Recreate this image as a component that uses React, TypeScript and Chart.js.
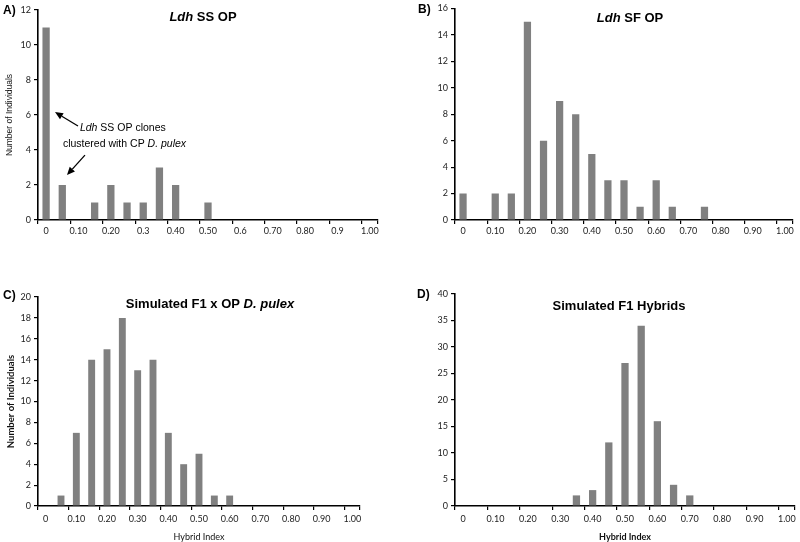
import React, { useEffect, useRef } from 'react';
import { Chart, registerables } from 'chart.js';

Chart.register(...registerables);

// ---- data ----
const hybridIndexBins = [
  '0', '0.05', '0.10', '0.15', '0.20', '0.25', '0.30', '0.35', '0.40', '0.45', '0.50',
  '0.55', '0.60', '0.65', '0.70', '0.75', '0.80', '0.85', '0.90', '0.95', '1.00',
];
const tickLabelsA = ['0', '', '0.10', '', '0.20', '', '0.3', '', '0.40', '', '0.50', '', '0.6', '', '0.70', '', '0.80', '', '0.9', '', '1.00'];
const tickLabelsStd = ['0', '', '0.10', '', '0.20', '', '0.30', '', '0.40', '', '0.50', '', '0.60', '', '0.70', '', '0.80', '', '0.90', '', '1.00'];

const countsLdhSSOP = [11, 2, 0, 1, 2, 1, 1, 3, 2, 0, 1, 0, 0, 0, 0, 0, 0, 0, 0, 0, 0];
const countsLdhSFOP = [2, 0, 2, 2, 15, 6, 9, 8, 5, 3, 3, 1, 3, 1, 0, 1, 0, 0, 0, 0, 0];
const countsSimF1xOP = [0, 1, 7, 14, 15, 18, 13, 14, 7, 4, 5, 1, 1, 0, 0, 0, 0, 0, 0, 0, 0];
const countsSimF1 = [0, 0, 0, 0, 0, 0, 0, 2, 3, 12, 27, 34, 16, 4, 2, 0, 0, 0, 0, 0, 0];

const yAxisA = { max: 12, step: 2 };
const yAxisB = { max: 16, step: 2 };
const yAxisC = { max: 20, step: 2 };
const yAxisD = { max: 40, step: 5 };

type Seg = { text: string; italic?: boolean; bold?: boolean };
type Note = { segs: Seg[]; at: [number, number] };
type Arrow = { from: [number, number]; to: [number, number] };

const TEXT_FONT = '"Liberation Sans", Arial, sans-serif';
const AXIS_FONT = 'Lato';

function fontStr(s: Seg, size: number) {
  return `${s.italic ? 'italic ' : ''}${s.bold ? 'bold ' : ''}${size}px ${TEXT_FONT}`;
}

function drawRich(ctx: CanvasRenderingContext2D, segs: Seg[], x: number, y: number, size: number, align: 'left' | 'center') {
  const widths = segs.map((s) => {
    ctx.font = fontStr(s, size);
    return ctx.measureText(s.text).width;
  });
  const total = widths.reduce((a, b) => a + b, 0);
  let cx = align === 'center' ? x - total / 2 : x;
  ctx.textAlign = 'left';
  ctx.textBaseline = 'middle';
  segs.forEach((s, i) => {
    ctx.font = fontStr(s, size);
    ctx.fillText(s.text, cx, y);
    cx += widths[i];
  });
}

interface PanelProps {
  box: { left: number; top: number; width: number; height: number };
  area: { left: number; top: number; right: number; bottom: number };
  counts: number[];
  tickLabels: string[];
  yAxis: { max: number; step: number };
  letter: string;
  letterAt: [number, number];
  title: Seg[];
  titleAt: [number, number];
  yTitle?: string;
  yTitleFont?: any;
  xTitle?: string;
  xTitleBold?: boolean;
  xTickPad: number;
  notes?: Note[];
  arrows?: Arrow[];
}

function Panel(p: PanelProps) {
  const ref = useRef<HTMLCanvasElement>(null);
  useEffect(() => {
    const { box, area } = p;
    const decor = {
      id: 'decor',
      afterDraw(chart: any) {
        const ctx: CanvasRenderingContext2D = chart.ctx;
        ctx.save();
        ctx.fillStyle = '#000';
        drawRich(ctx, [{ text: p.letter, bold: true }], p.letterAt[0] - box.left, p.letterAt[1] - box.top, 12, 'left');
        drawRich(ctx, p.title, p.titleAt[0] - box.left, p.titleAt[1] - box.top, 13, 'center');
        const xs = chart.scales.x;
        const ys = chart.scales.y;
        (p.notes || []).forEach((n) => {
          drawRich(ctx, n.segs, xs.getPixelForValue(n.at[0]), ys.getPixelForValue(n.at[1]), 10.5, 'left');
        });
        (p.arrows || []).forEach((a) => {
          const x1 = xs.getPixelForValue(a.from[0]);
          const y1 = ys.getPixelForValue(a.from[1]);
          const x2 = xs.getPixelForValue(a.to[0]);
          const y2 = ys.getPixelForValue(a.to[1]);
          const ang = Math.atan2(y2 - y1, x2 - x1);
          const hl = 8;
          const hw = 3.5;
          const bx = x2 - hl * Math.cos(ang);
          const by = y2 - hl * Math.sin(ang);
          ctx.strokeStyle = '#000';
          ctx.lineWidth = 1.3;
          ctx.beginPath();
          ctx.moveTo(x1, y1);
          ctx.lineTo(bx, by);
          ctx.stroke();
          ctx.beginPath();
          ctx.moveTo(x2, y2);
          ctx.lineTo(bx + hw * Math.sin(ang), by - hw * Math.cos(ang));
          ctx.lineTo(bx - hw * Math.sin(ang), by + hw * Math.cos(ang));
          ctx.closePath();
          ctx.fill();
        });
        ctx.restore();
      },
    };
    const chart = new Chart(ref.current as HTMLCanvasElement, {
      type: 'bar',
      data: {
        labels: hybridIndexBins,
        datasets: [
          {
            data: p.counts,
            backgroundColor: '#808080',
            borderWidth: 0,
            barPercentage: 0.45,
            categoryPercentage: 1,
          },
        ],
      },
      options: {
        animation: false,
        responsive: false,
        maintainAspectRatio: false,
        layout: {
          padding: {
            left: 0,
            top: area.top - box.top,
            right: box.left + box.width - area.right,
            bottom: 0,
          },
        },
        plugins: { legend: { display: false }, tooltip: { enabled: false }, title: { display: false } },
        scales: {
          x: {
            offset: true,
            grid: {
              offset: true,
              drawOnChartArea: false,
              drawTicks: true,
              tickLength: 4,
              lineWidth: 1.2,
              tickColor: (c: any) => (c.index === undefined || c.index % 2 === 0 ? '#000' : 'rgba(0,0,0,0)'),
            },
            border: { color: '#000', width: 1.6 },
            ticks: {
              autoSkip: false,
              maxRotation: 0,
              minRotation: 0,
              padding: p.xTickPad,
              color: '#222',
              font: { family: AXIS_FONT, size: 9 },
              callback: (_v: any, i: number) => p.tickLabels[i],
            },
            title: p.xTitle
              ? {
                  display: true,
                  text: p.xTitle,
                  color: '#111',
                  font: { family: AXIS_FONT, size: 9, weight: p.xTitleBold ? 'bold' : 'normal' },
                  padding: { top: 4, bottom: 0 },
                }
              : { display: false },
            afterFit: (s: any) => {
              s.height = box.top + box.height - area.bottom;
            },
          },
          y: {
            min: 0,
            max: p.yAxis.max,
            grid: { drawOnChartArea: false, drawTicks: true, tickLength: 4, lineWidth: 1.2, tickColor: '#000' },
            border: { color: '#000', width: 1.6 },
            ticks: {
              stepSize: p.yAxis.step,
              padding: 3,
              color: '#222',
              font: { family: AXIS_FONT, size: 9 },
            },
            title: p.yTitle
              ? {
                  display: true,
                  text: p.yTitle,
                  color: '#111',
                  font: p.yTitleFont || { family: AXIS_FONT, size: 9 },
                  padding: { top: 5, bottom: 0 },
                }
              : { display: false },
            afterFit: (s: any) => {
              s.width = area.left - box.left;
            },
          },
        },
      } as any,
      plugins: [decor],
    });
    return () => chart.destroy();
  }, []);
  return (
    <canvas
      ref={ref}
      width={p.box.width}
      height={p.box.height}
      style={{ position: 'absolute', left: p.box.left, top: p.box.top, width: p.box.width, height: p.box.height }}
    />
  );
}

export default function App() {
  return (
    <div style={{ position: 'fixed', left: 0, top: 0, width: 800, height: 542, background: '#fff', overflow: 'hidden' }}>
      <Panel
        box={{ left: 0, top: 0, width: 400, height: 271 }}
        area={{ left: 38, top: 10, right: 378, bottom: 220 }}
        counts={countsLdhSSOP}
        tickLabels={tickLabelsA}
        yAxis={yAxisA}
        letter="A)"
        letterAt={[3, 11]}
        title={[{ text: 'Ldh', bold: true, italic: true }, { text: ' SS OP', bold: true }]}
        titleAt={[203, 17]}
        yTitle="Number of Individuals"
        yTitleFont={{ family: '"Liberation Sans", Arial, sans-serif', size: 8.5 }}
        xTickPad={2}
        notes={[
          { segs: [{ text: 'Ldh', italic: true }, { text: ' SS OP clones' }], at: [2.09, 5.26] },
          { segs: [{ text: 'clustered with CP ' }, { text: 'D. pulex', italic: true }], at: [1.04, 4.34] },
        ]}
        arrows={[
          { from: [1.97, 5.37], to: [0.55, 6.17] },
          { from: [2.4, 3.71], to: [1.29, 2.57] },
        ]}
      />
      <Panel
        box={{ left: 400, top: 0, width: 400, height: 271 }}
        area={{ left: 455, top: 8, right: 793, bottom: 220 }}
        counts={countsLdhSFOP}
        tickLabels={tickLabelsStd}
        yAxis={yAxisB}
        letter="B)"
        letterAt={[418, 10]}
        title={[{ text: 'Ldh', bold: true, italic: true }, { text: ' SF OP', bold: true }]}
        titleAt={[630, 18]}
        xTickPad={2}
      />
      <Panel
        box={{ left: 0, top: 271, width: 400, height: 271 }}
        area={{ left: 38, top: 297, right: 360, bottom: 506 }}
        counts={countsSimF1xOP}
        tickLabels={tickLabelsStd}
        yAxis={yAxisC}
        letter="C)"
        letterAt={[3, 296]}
        title={[{ text: 'Simulated F1 x OP ', bold: true }, { text: 'D. pulex', bold: true, italic: true }]}
        titleAt={[210, 304]}
        yTitle="Number of Individuals"
        yTitleFont={{ family: AXIS_FONT, size: 9.5, weight: 'bold' }}
        xTitle="Hybrid Index"
        xTickPad={4}
      />
      <Panel
        box={{ left: 400, top: 271, width: 400, height: 271 }}
        area={{ left: 455, top: 294, right: 795, bottom: 506 }}
        counts={countsSimF1}
        tickLabels={tickLabelsStd}
        yAxis={yAxisD}
        letter="D)"
        letterAt={[417, 295]}
        title={[{ text: 'Simulated F1 Hybrids', bold: true }]}
        titleAt={[619, 306]}
        xTitle="Hybrid Index"
        xTitleBold
        xTickPad={4}
      />
    </div>
  );
}
